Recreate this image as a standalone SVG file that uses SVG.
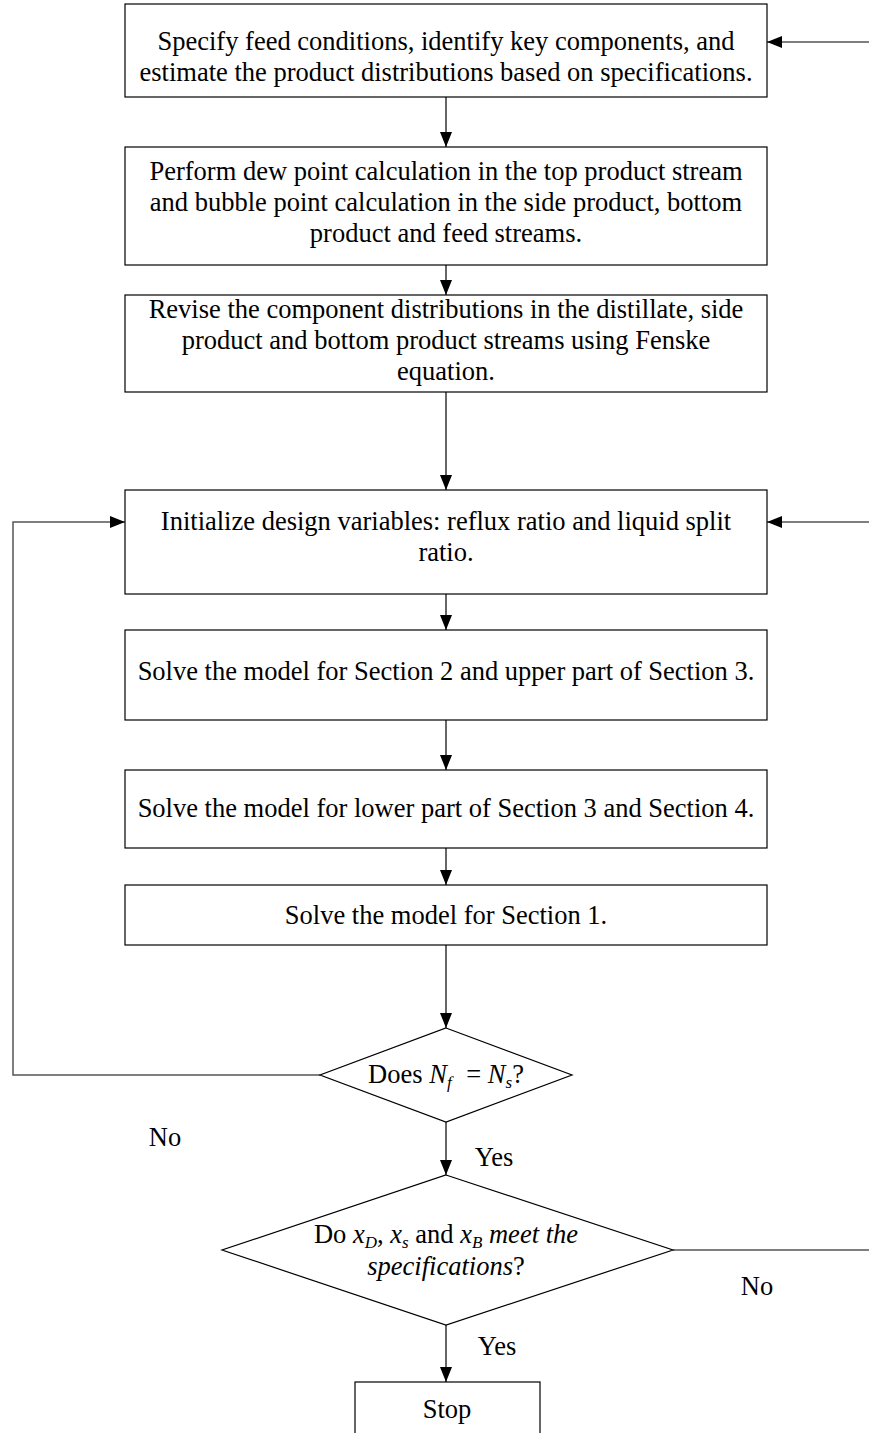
<svg xmlns="http://www.w3.org/2000/svg" width="869" height="1433" viewBox="0 0 869 1433">
<defs>
<marker id="ah" markerWidth="15" markerHeight="12" refX="15" refY="6" orient="auto" markerUnits="userSpaceOnUse">
<path d="M0,0 L15,6 L0,12 Z" fill="#000"/>
</marker>
<style>
.box{fill:#fff;stroke:#000;stroke-width:1.2}
.l{fill:none;stroke:#000;stroke-width:1.2}
.g{fill:none;stroke:#555;stroke-width:1.5}
</style>
</defs>
<rect width="869" height="1433" fill="#fff"/>
<g id="connectors">
<line class="l" x1="446" y1="97" x2="446" y2="147" marker-end="url(#ah)"/>
<line class="l" x1="446" y1="265" x2="446" y2="295" marker-end="url(#ah)"/>
<line class="l" x1="446" y1="392" x2="446" y2="490" marker-end="url(#ah)"/>
<line class="l" x1="446" y1="594" x2="446" y2="630" marker-end="url(#ah)"/>
<line class="l" x1="446" y1="720" x2="446" y2="770" marker-end="url(#ah)"/>
<line class="l" x1="446" y1="848" x2="446" y2="885" marker-end="url(#ah)"/>
<line class="l" x1="446" y1="945" x2="446" y2="1028" marker-end="url(#ah)"/>
<line class="l" x1="446" y1="1122" x2="446" y2="1175" marker-end="url(#ah)"/>
<line class="l" x1="446" y1="1325" x2="446" y2="1382" marker-end="url(#ah)"/>
<polyline class="g" points="320,1075 13,1075 13,522 125,522" marker-end="url(#ah)"/>
<line class="g" x1="869" y1="42" x2="767" y2="42" marker-end="url(#ah)"/>
<line class="g" x1="869" y1="522" x2="767" y2="522" marker-end="url(#ah)"/>
<line class="g" x1="673" y1="1250" x2="869" y2="1250"/>
<g font-family="'Liberation Serif', 'Times New Roman', Times, serif" font-size="26.5" text-anchor="middle" fill="#000">
<text x="165" y="1146">No</text>
<text x="494" y="1166">Yes</text>
<text x="757" y="1295">No</text>
<text x="497" y="1355">Yes</text>
</g>
</g>
<g font-family="'Liberation Serif', 'Times New Roman', Times, serif" font-size="26.5" text-anchor="middle" fill="#000">
<g id="n1">
<rect class="box" x="125" y="4" width="642" height="93"/>
<text x="446" y="50">Specify feed conditions, identify key components, and</text>
<text x="446" y="81">estimate the product distributions based on specifications.</text>
</g>
<g id="n2">
<rect class="box" x="125" y="147" width="642" height="118"/>
<text x="446" y="180">Perform dew point calculation in the top product stream</text>
<text x="446" y="211">and bubble point calculation in the side product, bottom</text>
<text x="446" y="242">product and feed streams.</text>
</g>
<g id="n3">
<rect class="box" x="125" y="295" width="642" height="97"/>
<text x="446" y="318">Revise the component distributions in the distillate, side</text>
<text x="446" y="349">product and bottom product streams using Fenske</text>
<text x="446" y="380">equation.</text>
</g>
<g id="n4">
<rect class="box" x="125" y="490" width="642" height="104"/>
<text x="446" y="530">Initialize design variables: reflux ratio and liquid split</text>
<text x="446" y="561">ratio.</text>
</g>
<g id="n5">
<rect class="box" x="125" y="630" width="642" height="90"/>
<text x="446" y="680">Solve the model for Section 2 and upper part of Section 3.</text>
</g>
<g id="n6">
<rect class="box" x="125" y="770" width="642" height="78"/>
<text x="446" y="817">Solve the model for lower part of Section 3 and Section 4.</text>
</g>
<g id="n7">
<rect class="box" x="125" y="885" width="642" height="60"/>
<text x="446" y="924">Solve the model for Section 1.</text>
</g>
<g id="d1">
<polygon class="box" points="446,1028 572,1075 446,1122 320,1075"/>
<text x="446" y="1083">Does <tspan font-style="italic">N<tspan font-size="17" dy="5">f</tspan></tspan><tspan dy="-5" dx="8"> = </tspan><tspan font-style="italic">N<tspan font-size="17" dy="5">s</tspan></tspan><tspan dy="-5">?</tspan></text>
</g>
<g id="d2">
<polygon class="box" points="446,1175 673,1250 446,1325 222,1250"/>
<text x="446" y="1243">Do <tspan font-style="italic">x<tspan font-size="17" dy="5">D</tspan></tspan><tspan dy="-5">, </tspan><tspan font-style="italic">x<tspan font-size="17" dy="5">s</tspan></tspan><tspan dy="-5"> and </tspan><tspan font-style="italic">x<tspan font-size="17" dy="5">B</tspan><tspan dy="-5"> meet the</tspan></tspan></text>
<text x="446" y="1275"><tspan font-style="italic">specifications</tspan>?</text>
</g>
<g id="stop">
<rect class="box" x="355" y="1382" width="185" height="60"/>
<text x="447" y="1418">Stop</text>
</g>
</g>
</svg>
